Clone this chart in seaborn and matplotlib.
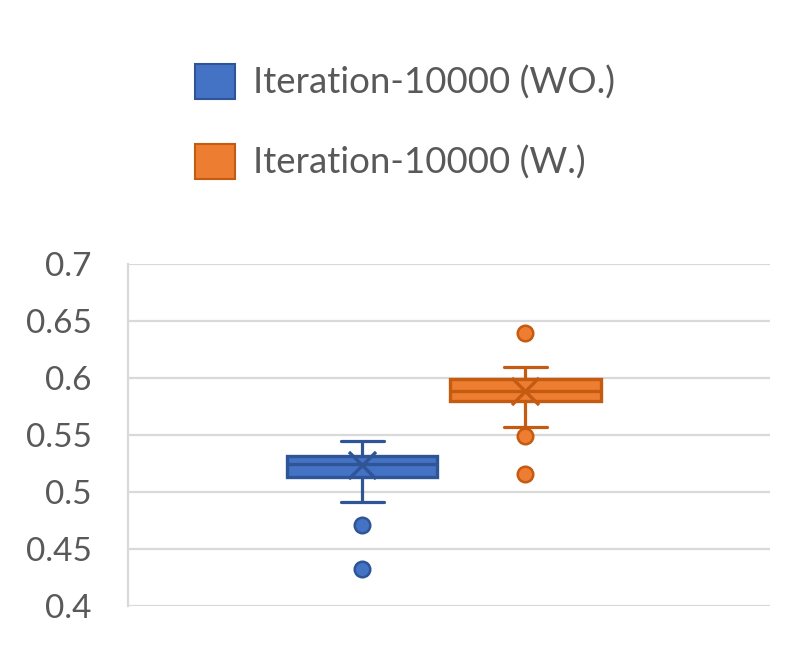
import matplotlib
matplotlib.use("Agg")
import matplotlib.pyplot as plt
import seaborn as sns
import pandas as pd
from matplotlib.patches import Patch

# values
series_names = ["Iteration-10000 (WO.)", "Iteration-10000 (W.)"]
whisker_low = [0.4916, 0.5569]
q1 = [0.5135, 0.5800]
median = [0.5244, 0.5888]
q3 = [0.5320, 0.5990]
whisker_high = [0.5446, 0.6096]
means = [0.5236, 0.5882]
outliers = [[0.4711, 0.4322], [0.6394, 0.5495, 0.5159]]
y_ticks = [0.4, 0.45, 0.5, 0.55, 0.6, 0.65, 0.7]
y_tick_labels = ["0.4", "0.45", "0.5", "0.55", "0.6", "0.65", "0.7"]

fill_colors = ["#4472C4", "#ED7D31"]
edge_colors = ["#2F5597", "#C55A11"]
box_pos = [0.365, 0.619]
text_color = "#595959"
grid_color = "#D9D9D9"

sns.set_theme(style="whitegrid")
plt.rcParams["font.family"] = ["Lato", "DejaVu Sans"]

fig = plt.figure(figsize=(8.01, 6.58), dpi=100)
ax = fig.add_axes([128 / 801, 1 - 606 / 658, 642 / 801, 342 / 658])

stats = []
for i in range(len(series_names)):
    stats.append({
        "label": series_names[i],
        "whislo": whisker_low[i],
        "q1": q1[i],
        "med": median[i],
        "q3": q3[i],
        "whishi": whisker_high[i],
        "mean": means[i],
        "fliers": [],
    })

art = ax.bxp(stats, positions=box_pos, widths=0.234, patch_artist=True,
             showfliers=False, showmeans=False, capwidths=0.068,
             manage_ticks=False)
for i in range(len(series_names)):
    art["boxes"][i].set(facecolor=fill_colors[i], edgecolor=edge_colors[i], linewidth=2.4)
    art["medians"][i].set(color=edge_colors[i], linewidth=2.4)
    for ln in art["whiskers"][2 * i:2 * i + 2] + art["caps"][2 * i:2 * i + 2]:
        ln.set(color=edge_colors[i], linewidth=2.3)

# outliers and mean markers
for i in range(len(series_names)):
    df_out = pd.DataFrame({"x": [box_pos[i]] * len(outliers[i]), "value": outliers[i]})
    sns.scatterplot(data=df_out, x="x", y="value", ax=ax, s=125,
                    color=fill_colors[i], edgecolor=edge_colors[i], linewidth=1.8, zorder=4)
    df_mean = pd.DataFrame({"x": [box_pos[i]], "value": [means[i]]})
    sns.scatterplot(data=df_mean, x="x", y="value", ax=ax, marker="x", s=380,
                    color=edge_colors[i], linewidth=2.4, zorder=5)

ax.set_xlim(0, 1)
ax.set_ylim(0.4, 0.7)
ax.set_yticks(y_ticks)
ax.set_yticklabels(y_tick_labels)
ax.set_xticks([])
ax.set_xlabel("")
ax.set_ylabel("")
ax.tick_params(axis="y", length=0, pad=26, labelsize=24, labelcolor=text_color)
ax.yaxis.grid(True, color=grid_color, linewidth=1.6)
ax.xaxis.grid(False)
ax.set_facecolor("white")
for side in ["top", "right", "bottom"]:
    ax.spines[side].set_visible(False)
ax.spines["left"].set_color(grid_color)
ax.spines["left"].set_linewidth(1.6)

handles = [Patch(facecolor=fill_colors[i], edgecolor=edge_colors[i], linewidth=1.5)
           for i in range(len(series_names))]
fig.legend(handles, series_names, loc="upper left",
           bbox_to_anchor=(195 / 801, 1 - 64 / 658), frameon=False,
           fontsize=26.4, handlelength=1.08, handleheight=1.08,
           handletextpad=0.5, labelspacing=1.2, borderpad=0, borderaxespad=0,
           labelcolor=text_color)

fig.savefig("out.png", dpi=100, facecolor="white")
